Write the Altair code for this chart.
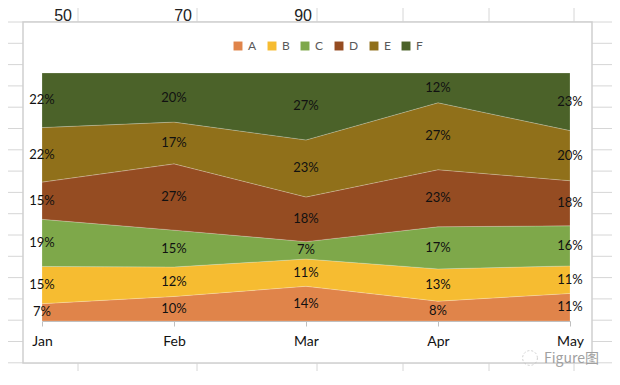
import altair as alt
import pandas as pd

months = ["Jan", "Feb", "Mar", "Apr", "May"]
series = ["A", "B", "C", "D", "E", "F"]
A = [7, 10, 14, 8, 11]
B = [15, 12, 11, 13, 11]
C = [19, 15, 7, 17, 16]
D = [15, 27, 18, 23, 18]
E = [22, 17, 23, 27, 20]
F = [22, 20, 27, 12, 23]
colors = ["#E0844A", "#F6BC31", "#7EA84A", "#954C22", "#90701A", "#4B6229"]
header_numbers = ["50", "70", "90"]

values = {"A": A, "B": B, "C": C, "D": D, "E": E, "F": F}
rows = []
for i, s in enumerate(series):
    for m, v in zip(months, values[s]):
        rows.append({"month": m, "series": s, "value": v, "order": i})
df = pd.DataFrame(rows)
one = pd.DataFrame({"k": [0]})

# plot origin on the page is (42, 73)
OX, OY = 42, 73


def px(x):
    return x - OX


def py(y):
    return y - OY


layers = []
# spreadsheet grid behind the chart object
grid_color = "#d6d6d6"
for cx in [78, 197, 317, 403, 489, 574]:
    layers.append(alt.Chart(one).mark_rule(color=grid_color, strokeWidth=1).encode(
        x=alt.value(px(cx)), y=alt.value(py(0)), y2=alt.value(py(385))))
for k in range(17):
    ry = 22 + 21.3 * k
    layers.append(alt.Chart(one).mark_rule(color=grid_color, strokeWidth=1).encode(
        x=alt.value(px(0)), x2=alt.value(px(620)), y=alt.value(py(ry))))
# header cell numbers
for txt, rx in zip(header_numbers, [72, 192, 312]):
    layers.append(alt.Chart(one).mark_text(align="right", baseline="alphabetic", fontSize=16,
                                           font="Liberation Sans", color="#222222").encode(
        x=alt.value(px(rx)), y=alt.value(py(21)), text=alt.value(txt)))
# chart object box
layers.append(alt.Chart(one).mark_rect(fill="white", stroke="#cfcfcf", strokeWidth=1.5).encode(
    x=alt.value(px(23)), x2=alt.value(px(592)), y=alt.value(py(22)), y2=alt.value(py(363))))

xenc = alt.X("month:O", sort=months, scale=alt.Scale(type="point", padding=0),
             axis=alt.Axis(title=None, labelAngle=0, labelFontSize=14, labelFont="Lato",
                           labelColor="#111111", tickColor="#bfbfbf", tickSize=5,
                           domainColor="#bfbfbf", labelPadding=8, grid=False, zindex=1))

area = alt.Chart(df).mark_area(stroke="white", strokeWidth=0.7, strokeOpacity=0.3).encode(
    x=xenc,
    y=alt.Y("value:Q", stack="normalize", axis=None, scale=alt.Scale(domain=[0, 1], nice=False)),
    color=alt.Color("series:N", scale=alt.Scale(domain=series, range=colors),
                    legend=alt.Legend(title=None, orient="none", legendX=190, legendY=-33,
                                      direction="horizontal", columns=6, symbolType="square",
                                      symbolSize=80, symbolStrokeWidth=0, labelFontSize=12,
                                      labelFont="Lato", labelColor="#595959", labelOffset=4,
                                      columnPadding=9, zindex=1)),
    order=alt.Order("order:Q", sort="ascending"),
)

labels = alt.Chart(df).transform_stack(
    stack="value", groupby=["month"], as_=["y0", "y1"], offset="normalize",
    sort=[alt.SortField("order", "ascending")]
).transform_calculate(
    mid="(datum.y0 + datum.y1) / 2", label="datum.value + '%'"
).mark_text(fontSize=13, font="Lato", color="#111111").encode(
    x=alt.X("month:O", sort=months, scale=alt.Scale(type="point", padding=0)),
    y=alt.Y("mid:Q", axis=None, scale=alt.Scale(domain=[0, 1], nice=False)),
    text="label:N",
)

layers += [area, labels]

# watermark
layers.append(alt.Chart(one).mark_point(shape="circle", size=220, filled=False, color="#bdbdbd",
                                        strokeWidth=1, strokeDash=[2, 2]).encode(
    x=alt.value(px(530)), y=alt.value(py(358))))
layers.append(alt.Chart(one).mark_text(align="left", baseline="middle", fontSize=14, font="Noto Sans CJK SC",
                                       color="#a0a0a0").encode(
    x=alt.value(px(544)), y=alt.value(py(359)), text=alt.value("Figure图")))

chart = alt.layer(*layers).properties(
    width=528, height=248,
    autosize=alt.AutoSizeParams(type="none"),
    padding={"left": 34, "top": 65, "right": 42, "bottom": 50},
).configure_view(stroke=None).resolve_scale(color="independent")

chart.save("out.html", embed_options={"renderer": "svg", "actions": False})
